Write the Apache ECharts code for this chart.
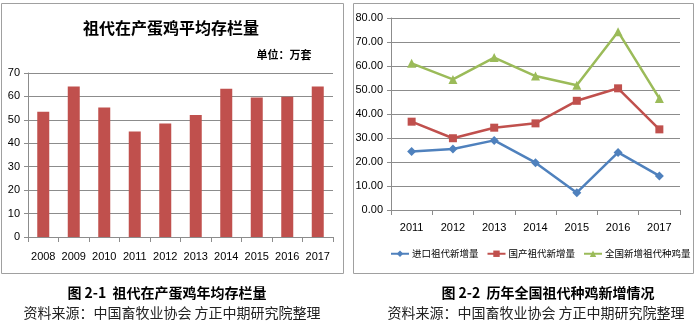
<!DOCTYPE html>
<html><head><meta charset="utf-8">
<script src="https://cdn.jsdelivr.net/npm/echarts@6/dist/echarts.min.js"></script>
<style>html,body{margin:0;padding:0;background:#fff}#c{width:700px;height:329px}</style>
</head><body><div id="c"></div>
<script>
var years1 = ['2008','2009','2010','2011','2012','2013','2014','2015','2016','2017'];
var stock = [53.5, 64.2, 55.3, 45.0, 48.4, 52.1, 63.3, 59.5, 59.9, 64.2];
var years2 = ['2011','2012','2013','2014','2015','2016','2017'];
var imported = [24.4, 25.4, 29.0, 19.7, 7.2, 24.0, 14.2];
var domestic = [36.8, 29.9, 34.3, 36.1, 45.5, 50.7, 33.6];
var total = [61.1, 54.4, 63.5, 55.8, 52.0, 74.3, 46.5];
var names2 = ['进口祖代新增量','国产祖代新增量','全国新增祖代种鸡量'];

var cjk = '"Noto Sans CJK SC", sans-serif';
var num = '"Liberation Sans Narrow", "Liberation Sans", sans-serif';
var gridColor = '#8c8c8c';

var chart = echarts.init(document.getElementById('c'));
chart.setOption({
  animation: false,
  graphic: [
    {type:'rect', shape:{x:1.5,y:3.5,width:342,height:270}, style:{fill:'none',stroke:'#a0a0a0',lineWidth:1}},
    {type:'rect', shape:{x:353.5,y:3.5,width:340,height:270}, style:{fill:'none',stroke:'#a0a0a0',lineWidth:1}},
    {type:'text', x:171, y:28, style:{text:'祖代在产蛋鸡平均存栏量', font:'bold 16px '+cjk, fill:'#000', align:'center', verticalAlign:'middle'}},
    {type:'text', x:284, y:55, style:{text:'单位：万套', font:'bold 11px '+cjk, fill:'#000', align:'center', verticalAlign:'middle'}},
    {type:'text', x:167, y:293, style:{text:'图 2-1  祖代在产蛋鸡年均存栏量', font:'bold 14px '+cjk, fill:'#000', align:'center', verticalAlign:'middle'}},
    {type:'text', x:172, y:313, style:{text:'资料来源：中国畜牧业协会 方正中期研究院整理', font:'14px '+cjk, fill:'#222', align:'center', verticalAlign:'middle'}},
    {type:'text', x:548, y:293, style:{text:'图 2-2  历年全国祖代种鸡新增情况', font:'bold 14px '+cjk, fill:'#000', align:'center', verticalAlign:'middle'}},
    {type:'text', x:536, y:313, style:{text:'资料来源：中国畜牧业协会 方正中期研究院整理', font:'14px '+cjk, fill:'#222', align:'center', verticalAlign:'middle'}}
  ],
  legend: {
    data: names2, left: 390, top: 249, itemWidth: 18, itemHeight: 8, itemGap: 8, padding: 0,
    textStyle: {fontFamily: cjk, fontSize: 9.5, color: '#000', padding:[0,0,0,-2]}
  },
  grid: [
    {left: 28, right: 367, top: 73, bottom: 92},
    {left: 391, right: 20, top: 18, bottom: 119}
  ],
  xAxis: [
    {type:'category', gridIndex:0, data: years1,
     axisLine:{lineStyle:{color:gridColor}}, axisTick:{show:true, lineStyle:{color:gridColor}},
     axisLabel:{interval:0, fontFamily:num, fontSize:11, color:'#000', margin:14}},
    {type:'category', gridIndex:1, data: years2,
     axisLine:{lineStyle:{color:gridColor}}, axisTick:{show:true, lineStyle:{color:gridColor}},
     axisLabel:{interval:0, fontFamily:num, fontSize:11, color:'#000', margin:12}}
  ],
  yAxis: [
    {type:'value', gridIndex:0, min:0, max:70, interval:10,
     axisLine:{show:true, lineStyle:{color:gridColor}}, axisTick:{show:true, length:4, lineStyle:{color:gridColor}},
     splitLine:{lineStyle:{color:gridColor}},
     axisLabel:{fontFamily:num, fontSize:11, color:'#000', margin:8}},
    {type:'value', gridIndex:1, min:0, max:80, interval:10,
     axisLine:{show:true, lineStyle:{color:gridColor}}, axisTick:{show:true, length:4, lineStyle:{color:gridColor}},
     splitLine:{lineStyle:{color:gridColor}},
     axisLabel:{fontFamily:num, fontSize:11, color:'#000', margin:8, formatter: function(v){return v.toFixed(2);}}}
  ],
  series: [
    {type:'bar', xAxisIndex:0, yAxisIndex:0, data: stock, barWidth: 12, itemStyle:{color:'#C0504D'}},
    {name:names2[0], type:'line', xAxisIndex:1, yAxisIndex:1, data: imported, symbol:'diamond', symbolSize:9,
     lineStyle:{width:2.5,color:'#4F81BD'}, itemStyle:{color:'#4F81BD'}},
    {name:names2[1], type:'line', xAxisIndex:1, yAxisIndex:1, data: domestic, symbol:'rect', symbolSize:8,
     lineStyle:{width:2.5,color:'#C0504D'}, itemStyle:{color:'#C0504D'}},
    {name:names2[2], type:'line', xAxisIndex:1, yAxisIndex:1, data: total, symbol:'triangle', symbolSize:9,
     lineStyle:{width:2.5,color:'#9BBB59'}, itemStyle:{color:'#9BBB59'}}
  ]
});
</script></body></html>
